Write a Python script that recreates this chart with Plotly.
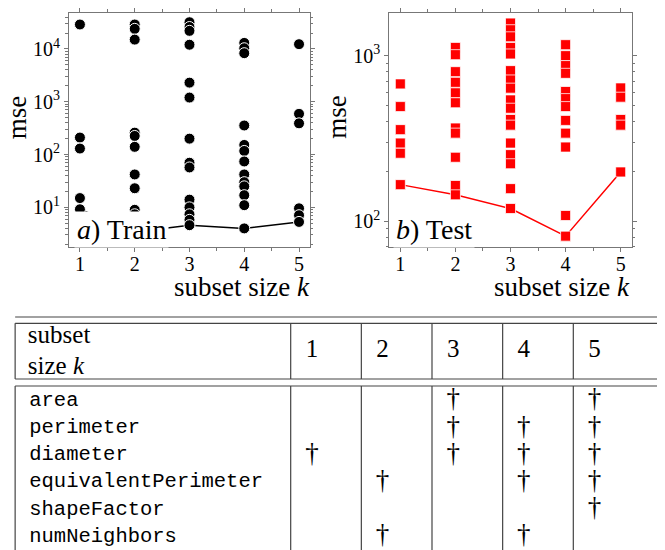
import plotly.graph_objects as go

# training mse for every feature subset, grouped by subset size k
train_k1 = [29000, 210, 130, 15, 9.2]
train_k2 = [29000, 24000, 15000, 260, 225, 140, 42, 23, 9.0, 7.4, 3.4]
train_k3 = [32000, 26000, 22000, 12000, 2300, 1200, 200, 70, 57, 14, 10, 7.4, 5.8, 4.6]
train_k4 = [13000, 10300, 8300, 355, 152, 117, 74, 42, 30, 25, 17, 11, 4.0]
train_k5 = [12300, 590, 390, 9.6, 7.1, 5.3]
train_best = [9.2, 3.4, 4.6, 4.0, 5.3]

# test mse
test_k1 = [675, 492, 357, 296, 257, 166]
test_k2 = [1122, 1014, 800, 690, 596, 519, 365, 340, 243, 164, 144]
test_k3 = [1574, 1435, 1300, 1122, 1024, 812, 713, 636, 540, 481, 411, 380, 296, 252, 222, 157, 119]
test_k4 = [1165, 1000, 871, 782, 607, 550, 492, 406, 340, 280, 108, 81]
test_k5 = [638, 561, 411, 380, 198]
test_best = [166, 144, 119, 81, 198]

k_values = [1, 2, 3, 4, 5]
train_ticks = [10, 100, 1000, 10000]
test_ticks = [100, 1000]

# table of selected features
features = ["area", "perimeter", "diameter", "equivalentPerimeter", "shapeFactor", "numNeighbors"]
selected = [[3, 5], [3, 4, 5], [1, 3, 4, 5], [2, 4, 5], [5], [2, 4]]

SERIF = "Liberation Serif"
MONO = "Liberation Mono"
FRAME = "#777777"


def flatten(groups):
    xs, ys = [], []
    for k, vals in zip(k_values, groups):
        xs += [k] * len(vals)
        ys += vals
    return xs, ys


def power_labels(vals):
    return ["10<sup>%d</sup>" % len(str(v)[1:]) for v in vals]


def log_minor(first, last):
    # 2..9 times each decade from 10**first to 10**last
    return [m * 10 ** e for e in range(first, last + 1) for m in range(2, 10)]


fig = go.Figure()

tx, ty = flatten([train_k1, train_k2, train_k3, train_k4, train_k5])
fig.add_trace(go.Scatter(x=k_values, y=train_best, mode="lines",
                         line=dict(color="black", width=1.5), xaxis="x", yaxis="y"))
fig.add_trace(go.Scatter(x=tx, y=ty, mode="markers",
                         marker=dict(color="black", size=11, line=dict(color="white", width=1)),
                         xaxis="x", yaxis="y"))

sx, sy = flatten([test_k1, test_k2, test_k3, test_k4, test_k5])
fig.add_trace(go.Scatter(x=k_values, y=test_best, mode="lines",
                         line=dict(color="#ff0000", width=1.5), xaxis="x2", yaxis="y2"))
fig.add_trace(go.Scatter(x=sx, y=sy, mode="markers",
                         marker=dict(color="#ff0000", size=10, symbol="square",
                                     line=dict(color="rgba(255,255,255,0.75)", width=1)),
                         xaxis="x2", yaxis="y2"))

# table: column k sits at x=k, feature rows at y=0..5
dag_x, dag_y = [], []
for row, ks in enumerate(selected):
    for k in ks:
        dag_x.append(k - 0.2)
        dag_y.append(row)
fig.add_trace(go.Scatter(x=dag_x, y=dag_y, mode="text", text=["†"] * len(dag_x),
                         textfont=dict(family=SERIF, size=27, color="black"),
                         xaxis="x3", yaxis="y3"))
fig.add_trace(go.Scatter(x=[-3.2] * len(features), y=list(range(len(features))), mode="text",
                         text=features, textposition="middle right",
                         textfont=dict(family=MONO, size=20.5, color="black"),
                         xaxis="x3", yaxis="y3"))
fig.add_trace(go.Scatter(x=[k - 0.2 for k in k_values], y=[-1.83] * 5, mode="text",
                         text=[str(k) for k in k_values],
                         textfont=dict(family=SERIF, size=25, color="black"),
                         xaxis="x3", yaxis="y3"))
fig.add_trace(go.Scatter(x=[-3.22, -3.22], y=[-2.36, -1.2], mode="text",
                         text=["subset", "size <i>k</i>"], textposition="middle right",
                         textfont=dict(family=SERIF, size=25, color="black"),
                         xaxis="x3", yaxis="y3"))

left_edge, right_edge = -3.40, 5.9
separators = [left_edge] + [k - 0.5 for k in k_values]
line_style = dict(color="#444444", width=1.2)
shapes = []
for yy in [-3.076, -2.846, -0.798, -0.540]:
    shapes.append(dict(type="line", xref="x3", yref="y3", x0=left_edge, x1=right_edge,
                       y0=yy, y1=yy, line=line_style))
for xx in separators:
    shapes.append(dict(type="line", xref="x3", yref="y3", x0=xx, x1=xx,
                       y0=-2.846, y1=-0.798, line=line_style))
    shapes.append(dict(type="line", xref="x3", yref="y3", x0=xx, x1=xx,
                       y0=-0.540, y1=5.78, line=line_style))

xcommon = dict(range=[0.8, 5.2], tickvals=k_values, ticks="outside", ticklen=4,
               tickcolor=FRAME, showline=True, linecolor=FRAME, linewidth=1,
               mirror="allticks", showgrid=False, zeroline=False, ticklabelstandoff=-5,
               minor=dict(dtick=0.5, ticks="outside", ticklen=3, tickcolor=FRAME),
               tickfont=dict(family=SERIF, size=20, color="black"))
ycommon = dict(type="log", ticks="outside", ticklen=4,
               tickcolor=FRAME, showline=True, linecolor=FRAME, linewidth=1,
               mirror="allticks", showgrid=False, zeroline=False,
               tickfont=dict(family=SERIF, size=20, color="black"))
big = dict(family=SERIF, size=27, color="black")

fig.update_layout(
    width=665, height=550,
    margin=dict(l=0, r=0, t=0, b=0),
    paper_bgcolor="white", plot_bgcolor="white",
    showlegend=False,
    xaxis=dict(xcommon, domain=[0.0917, 0.4541], anchor="y"),
    yaxis=dict(ycommon, domain=[0.5655, 0.9909], range=[0.25, 4.68], anchor="x",
               tickvals=train_ticks, ticktext=power_labels(train_ticks),
               minor=dict(tickvals=log_minor(0, 4), ticks="outside", ticklen=2.5,
                          tickcolor=FRAME)),
    xaxis2=dict(xcommon, domain=[0.5734, 0.9379], anchor="y2"),
    yaxis2=dict(ycommon, domain=[0.5655, 0.9909], range=[1.843, 3.258], anchor="x2",
                tickvals=test_ticks, ticktext=power_labels(test_ticks),
                minor=dict(tickvals=log_minor(1, 3), ticks="outside", ticklen=2.5,
                           tickcolor=FRAME)),
    xaxis3=dict(domain=[0, 1], range=[-3.501, 5.911], visible=False, anchor="y3"),
    yaxis3=dict(domain=[0, 0.46], range=[5.783, -3.518], visible=False, anchor="x3"),
    shapes=shapes,
    annotations=[
        dict(text="mse", x=0.014, y=0.8018, xref="paper", yref="paper", textangle=-90,
             xanchor="center", yanchor="middle", showarrow=False, font=big),
        dict(text="mse", x=0.4945, y=0.8018, xref="paper", yref="paper", textangle=-90,
             xanchor="center", yanchor="middle", showarrow=False, font=big),
        dict(text="subset size <i>k</i>", x=0.4567, y=0.4927, xref="paper", yref="paper",
             xanchor="right", yanchor="middle", showarrow=False, font=big),
        dict(text="subset size <i>k</i>", x=0.9379, y=0.4927, xref="paper", yref="paper",
             xanchor="right", yanchor="middle", showarrow=False, font=big),
        dict(text="<i>a</i>) Train", x=0.0992, y=0.5964, xref="paper", yref="paper",
             xanchor="left", yanchor="middle", showarrow=False, bgcolor="white", borderpad=2,
             font=dict(family=SERIF, size=28, color="black")),
        dict(text="<i>b</i>) Test", x=0.579, y=0.5964, xref="paper", yref="paper",
             xanchor="left", yanchor="middle", showarrow=False, bgcolor="white", borderpad=2,
             font=dict(family=SERIF, size=28, color="black")),
    ],
)

fig.write_html("out.html")
